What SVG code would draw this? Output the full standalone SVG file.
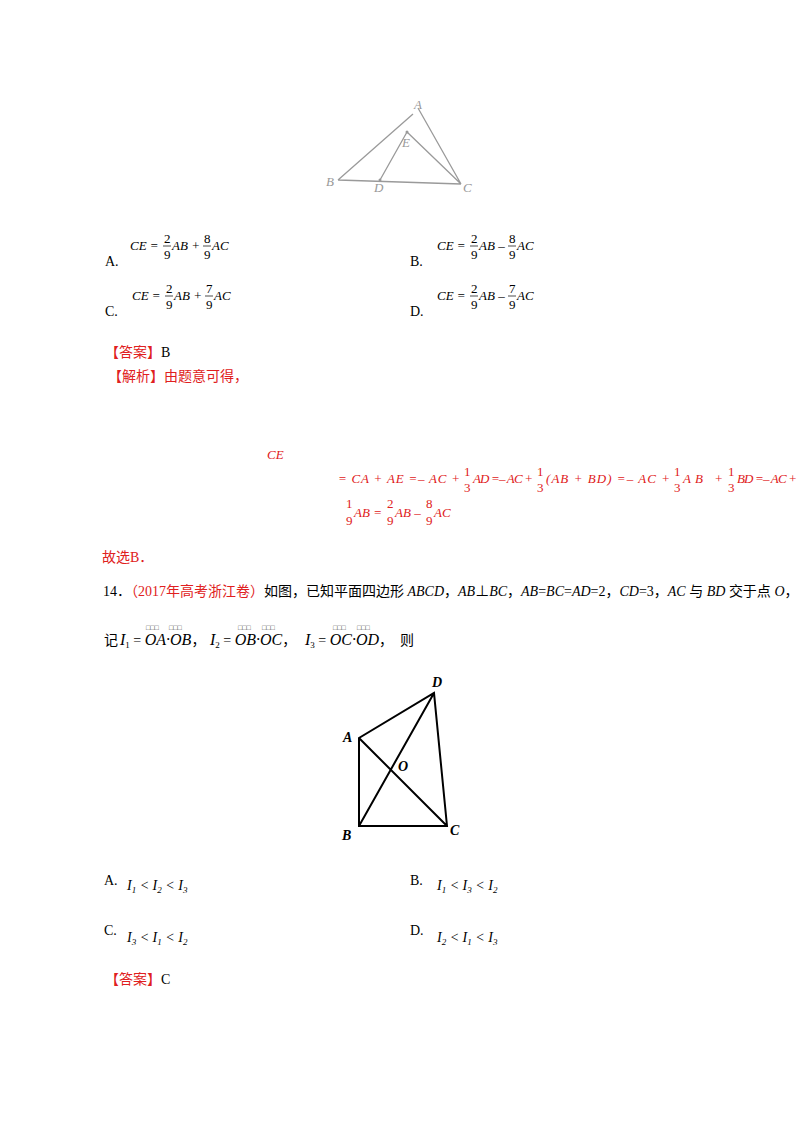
<svg xmlns="http://www.w3.org/2000/svg" width="800" height="1132" viewBox="0 0 800 1132">
<style>
text{font-family:"Liberation Serif","Noto Sans CJK SC",serif;font-size:14px;fill:#000}
.i{font-style:italic}
.r{fill:#e02020}
.s{font-size:13px}
.g{fill:#999;font-style:italic;font-size:13px}
.sub{font-size:9px}
.t{font-size:7px;fill:#444}
.l1{stroke:#9a9a9a;stroke-width:1.3;fill:none}
.l2{stroke:#000;stroke-width:2;fill:none}
</style>
<rect width="800" height="1132" fill="#fff"/>
<g id="connectors">
<path class="l1" d="M338,180 L413,114 M418,108 L461,184 M407,132 L380,180 M407,132 L461,184 M338,180 L461,184"/>
<path class="l2" d="M359,738 L359,826 L447,826 L434,693 Z M359,738 L447,826 M359,826 L434,693"/>
</g>
<g id="fig1-labels">
<text class="g" x="414" y="109">A</text>
<text class="g" x="402" y="147">E</text>
<text class="g" x="326" y="186">B</text>
<text class="g" x="374" y="192">D</text>
<text class="g" x="463" y="192">C</text>
<circle cx="407" cy="132" r="1.5" fill="#999"/><circle cx="380" cy="180" r="1.5" fill="#999"/>
</g>
<g id="options1">
<text x="105" y="266">A.</text>
<text class="i s" x="130" y="250">CE = </text><text class="s" x="164" y="243">2</text><line x1="163" y1="246" x2="171" y2="246" stroke="#000" stroke-width="0.7"/><text class="s" x="164" y="259">9</text><text class="i s" x="172" y="250">AB + </text><text class="s" x="204" y="243">8</text><line x1="203" y1="246" x2="211" y2="246" stroke="#000" stroke-width="0.7"/><text class="s" x="204" y="259">9</text><text class="i s" x="212" y="250">AC</text>
<text x="410" y="266">B.</text>
<text class="i s" x="437" y="250">CE = </text><text class="s" x="471" y="243">2</text><line x1="470" y1="246" x2="478" y2="246" stroke="#000" stroke-width="0.7"/><text class="s" x="471" y="259">9</text><text class="i s" x="479" y="250">AB – </text><text class="s" x="509" y="243">8</text><line x1="508" y1="246" x2="516" y2="246" stroke="#000" stroke-width="0.7"/><text class="s" x="509" y="259">9</text><text class="i s" x="517" y="250">AC</text>
<text x="105" y="316">C.</text>
<text class="i s" x="132" y="300">CE = </text><text class="s" x="166" y="293">2</text><line x1="165" y1="296" x2="173" y2="296" stroke="#000" stroke-width="0.7"/><text class="s" x="166" y="309">9</text><text class="i s" x="174" y="300">AB + </text><text class="s" x="206" y="293">7</text><line x1="205" y1="296" x2="213" y2="296" stroke="#000" stroke-width="0.7"/><text class="s" x="206" y="309">9</text><text class="i s" x="214" y="300">AC</text>
<text x="410" y="316">D.</text>
<text class="i s" x="437" y="300">CE = </text><text class="s" x="471" y="293">2</text><line x1="470" y1="296" x2="478" y2="296" stroke="#000" stroke-width="0.7"/><text class="s" x="471" y="309">9</text><text class="i s" x="479" y="300">AB – </text><text class="s" x="509" y="293">7</text><line x1="508" y1="296" x2="516" y2="296" stroke="#000" stroke-width="0.7"/><text class="s" x="509" y="309">9</text><text class="i s" x="517" y="300">AC</text>
</g>
<g id="answer1">
<text x="105" y="357"><tspan class="r">【答案】</tspan>B</text>
<text x="108" y="381" class="r">【解析】由题意可得，</text>
<text class="r i s" x="267" y="459">CE</text>
<text class="r i s" x="338" y="483" textLength="122" lengthAdjust="spacing">= CA + AE =– AC +</text>
<text class="r s" x="464" y="476">1</text><text class="r s" x="464" y="492">3</text>
<text class="r i s" x="473" y="483" textLength="60" lengthAdjust="spacing">AD =– AC +</text>
<text class="r s" x="537" y="476">1</text><text class="r s" x="537" y="492">3</text>
<text class="r i s" x="546" y="483" textLength="124" lengthAdjust="spacing">(AB + BD) =– AC +</text>
<text class="r s" x="674" y="476">1</text><text class="r s" x="674" y="492">3</text>
<text class="r i s" x="683" y="483" textLength="40" lengthAdjust="spacing">AB +</text>
<text class="r s" x="728" y="476">1</text><text class="r s" x="728" y="492">3</text>
<text class="r i s" x="737" y="483" textLength="60" lengthAdjust="spacing">BD =– AC +</text>
<text class="r s" x="346" y="508">1</text><text class="r s" x="346" y="525">9</text>
<text class="r i s" x="354" y="517">AB = </text>
<text class="r s" x="387" y="508">2</text><text class="r s" x="387" y="525">9</text>
<text class="r i s" x="395" y="517">AB – </text>
<text class="r s" x="426" y="508">8</text><text class="r s" x="426" y="525">9</text>
<text class="r i s" x="434" y="517">AC</text>
<text x="102" y="562" class="r">故选B．</text>
</g>
<g id="problem14">
<text x="103" y="596">14．<tspan class="r">（2017年高考浙江卷）</tspan>如图，已知平面四边形 <tspan class="i">ABCD</tspan>，<tspan class="i">AB</tspan>⊥<tspan class="i">BC</tspan>，<tspan class="i">AB</tspan>=<tspan class="i">BC</tspan>=<tspan class="i">AD</tspan>=2，<tspan class="i">CD</tspan>=3，<tspan class="i">AC</tspan> 与 <tspan class="i">BD</tspan> 交于点 <tspan class="i">O</tspan>，</text>
<text x="104" y="645">记</text>
<text x="120" y="645"><tspan class="i" font-size="16">I</tspan><tspan class="sub" dy="3">1</tspan><tspan dy="-3"> = </tspan><tspan class="i" font-size="16">OA·OB</tspan>，</text>
<text x="210" y="645"><tspan class="i" font-size="16">I</tspan><tspan class="sub" dy="3">2</tspan><tspan dy="-3"> = </tspan><tspan class="i" font-size="16">OB·OC</tspan>，</text>
<text x="305" y="645"><tspan class="i" font-size="16">I</tspan><tspan class="sub" dy="3">3</tspan><tspan dy="-3"> = </tspan><tspan class="i" font-size="16">OC·OD</tspan>，</text>
<text x="400" y="645">则</text>
<text class="t" x="146" y="630">□□□</text><text class="t" x="169" y="630">□□□</text>
<text class="t" x="238" y="630">□□□</text><text class="t" x="262" y="630">□□□</text>
<text class="t" x="333" y="630">□□□</text><text class="t" x="357" y="630">□□□</text>
</g>
<g id="fig2-labels">
<text class="i" font-weight="bold" x="343" y="742" font-size="13">A</text>
<text class="i" font-weight="bold" x="432" y="687" font-size="13">D</text>
<text class="i" font-weight="bold" x="398" y="771" font-size="13">O</text>
<text class="i" font-weight="bold" x="342" y="840" font-size="13">B</text>
<text class="i" font-weight="bold" x="450" y="835" font-size="13">C</text>
</g>
<g id="options2">
<text x="104" y="885">A.</text><text x="127" y="890" class="i">I<tspan class="sub" dy="3">1</tspan><tspan dy="-3"> &lt; I</tspan><tspan class="sub" dy="3">2</tspan><tspan dy="-3"> &lt; I</tspan><tspan class="sub" dy="3">3</tspan></text>
<text x="410" y="885">B.</text><text x="437" y="890" class="i">I<tspan class="sub" dy="3">1</tspan><tspan dy="-3"> &lt; I</tspan><tspan class="sub" dy="3">3</tspan><tspan dy="-3"> &lt; I</tspan><tspan class="sub" dy="3">2</tspan></text>
<text x="104" y="935">C.</text><text x="127" y="942" class="i">I<tspan class="sub" dy="3">3</tspan><tspan dy="-3"> &lt; I</tspan><tspan class="sub" dy="3">1</tspan><tspan dy="-3"> &lt; I</tspan><tspan class="sub" dy="3">2</tspan></text>
<text x="410" y="935">D.</text><text x="437" y="942" class="i">I<tspan class="sub" dy="3">2</tspan><tspan dy="-3"> &lt; I</tspan><tspan class="sub" dy="3">1</tspan><tspan dy="-3"> &lt; I</tspan><tspan class="sub" dy="3">3</tspan></text>
<text x="105" y="984"><tspan class="r">【答案】</tspan>C</text>
</g>
</svg>
